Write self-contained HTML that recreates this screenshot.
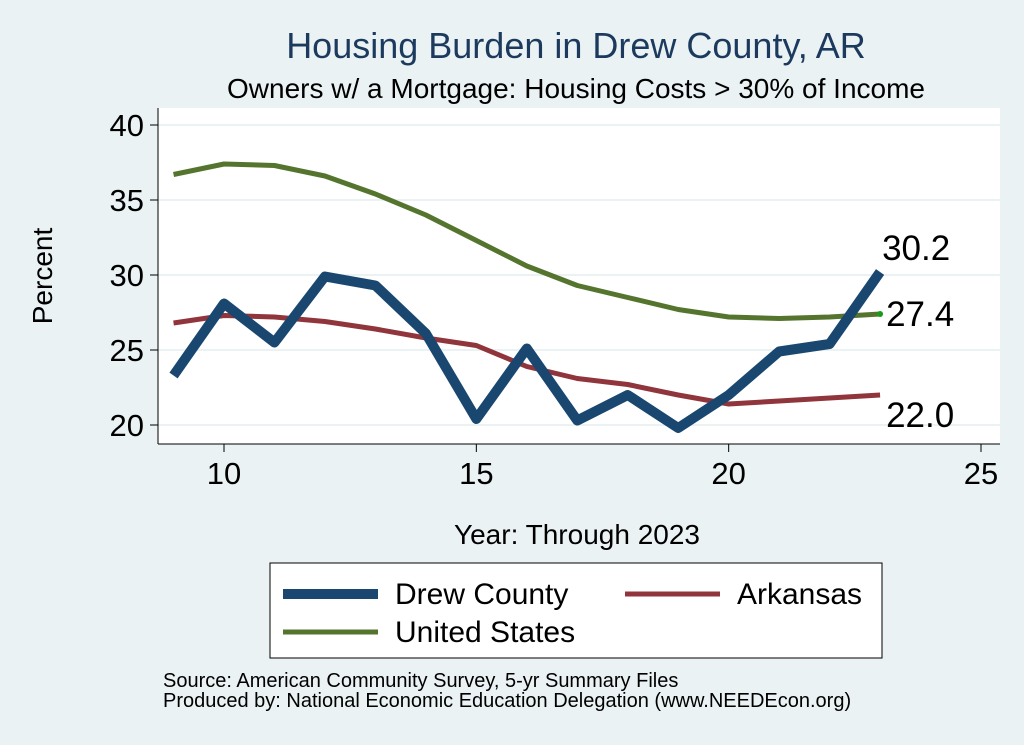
<!DOCTYPE html>
<html><head><meta charset="utf-8"><style>
body{margin:0;background:#eaf2f3;font-family:"Liberation Sans",sans-serif}
svg{display:block}
</style></head><body>
<svg width="1024" height="745">
<rect x="0" y="0" width="1024" height="745" fill="#eaf2f3"/>
<rect x="158" y="108" width="842" height="336" fill="#fff"/>
<text x="576" y="58" text-anchor="middle" font-size="36" fill="#1c3a5e">Housing Burden in Drew County, AR</text>
<text x="576" y="98" text-anchor="middle" font-size="28" fill="#000">Owners w/ a Mortgage: Housing Costs &gt; 30% of Income</text>
<g id="grid"></g><g id="axes"></g><g id="series"></g>
<text x="52" y="276" text-anchor="middle" font-size="28" transform="rotate(-90 52 276)">Percent</text>
<text x="577" y="544" text-anchor="middle" font-size="28">Year: Through 2023</text>
<rect x="270" y="563" width="612" height="95" fill="#fff" stroke="#000" stroke-width="1"/>
<g><line x1="283" y1="594" x2="378" y2="594" stroke="#1a476f" stroke-width="10"/><text x="395" y="604" font-size="30">Drew County</text></g>
<g><line x1="625" y1="594" x2="720" y2="594" stroke="#90353b" stroke-width="5"/><text x="737" y="604" font-size="30">Arkansas</text></g>
<g><line x1="283" y1="632" x2="378" y2="632" stroke="#55752f" stroke-width="5"/><text x="395" y="642" font-size="30">United States</text></g>
<text x="163" y="687" font-size="20">Source: American Community Survey, 5-yr Summary Files</text>
<text x="163" y="707" font-size="20">Produced by: National Economic Education Delegation (www.NEEDEcon.org)</text>
</svg>
<script>
const years=[9,10,11,12,13,14,15,16,17,18,19,20,21,22,23];
const drew=[23.3,28.1,25.5,29.9,29.3,26.1,20.4,25.1,20.3,22.0,19.8,22.0,24.9,25.4,30.2];
const arkansas=[26.8,27.3,27.2,26.9,26.4,25.8,25.3,23.9,23.1,22.7,22.0,21.4,21.6,21.8,22.0];
const us=[36.7,37.4,37.3,36.6,35.4,34.0,32.3,30.6,29.3,28.5,27.7,27.2,27.1,27.2,27.4];
const xTicks=[10,15,20,25];
const yTicks=[20,25,30,35,40];
const NS="http://www.w3.org/2000/svg";
const X=v=>224+(v-10)*(981-224)/15;
const Y=v=>425-(v-20)*15;
function mk(t,a,p){const e=document.createElementNS(NS,t);for(const k in a)e.setAttribute(k,a[k]);p.appendChild(e);return e;}
const grid=document.getElementById('grid'),axes=document.getElementById('axes'),ser=document.getElementById('series');
yTicks.forEach(v=>{
 const g=mk('line',{x1:158,x2:1000,y1:Y(v),y2:Y(v),stroke:'#eaf2f3','stroke-width':2},grid);
 
 
 mk('line',{x1:150,x2:158,y1:Y(v),y2:Y(v),stroke:'#000'},axes);
 const t=mk('text',{x:144,y:Y(v)+11,'text-anchor':'end','font-size':31},axes);t.textContent=v;
 
 
});
mk('line',{x1:158,x2:158,y1:108,y2:444,stroke:'#000'},axes);
mk('line',{x1:158,x2:1000,y1:444,y2:444,stroke:'#000'},axes);
xTicks.forEach(v=>{
 mk('line',{x1:X(v),x2:X(v),y1:444,y2:452,stroke:'#000'},axes);
 const t=mk('text',{x:X(v),y:484,'text-anchor':'middle','font-size':31},axes);t.textContent=v;
 
 
});
function line(data,color,w,name){
 const p=mk('polyline',{points:data.map((v,i)=>X(years[i])+','+Y(v)).join(' '),fill:'none',stroke:color,'stroke-width':w,'stroke-linejoin':'round'},ser);
 
 
}
line(us,'#55752f',5,'us-line');
line(arkansas,'#90353b',5,'arkansas-line');
line(drew,'#1a476f',10,'drew-line');
const last=years.length-1;
mk('circle',{cx:X(years[last]),cy:Y(us[last]),r:3,fill:'#1a9a1a'},ser);
[[drew,-12,'label-drew'],[us,12,'label-us'],[arkansas,32,'label-arkansas']].forEach(([d,dy,n])=>{
 const t=mk('text',{x:X(years[last])+(n==='label-drew'?2:6),y:Y(d[last])+dy,'font-size':35},ser);
 t.textContent=d[last].toFixed(1);
 
 
});
</script>
</body></html>
